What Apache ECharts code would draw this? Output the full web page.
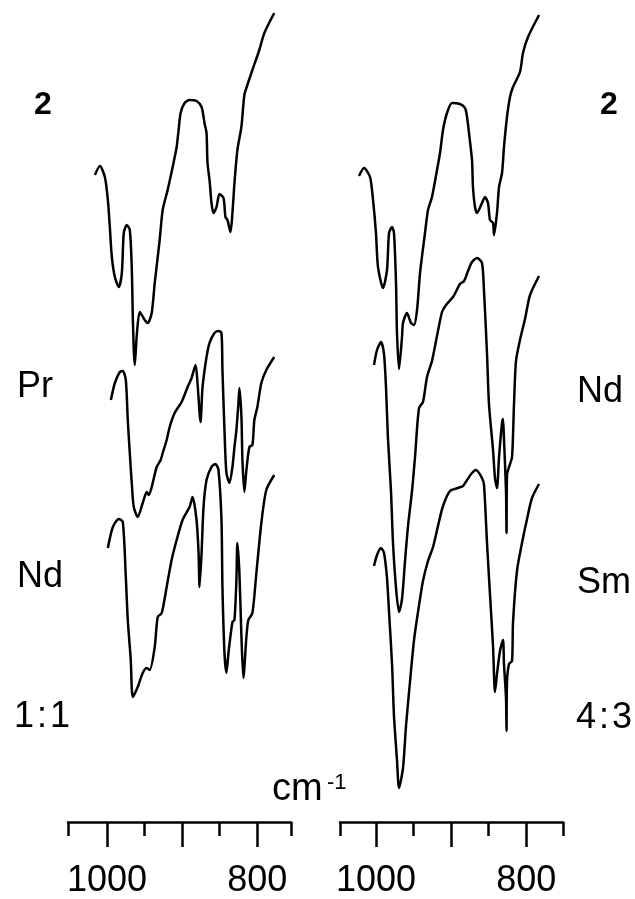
<!DOCTYPE html>
<html>
<head>
<meta charset="utf-8">
<script src="https://cdn.jsdelivr.net/npm/echarts@6/dist/echarts.min.js"></script>
<style>
html,body{margin:0;padding:0;background:#fff;}
#chart{width:635px;height:899px;}
</style>
</head>
<body>
<div id="chart"></div>
<script>
// Wavenumber ticks / labels
const longTicks = [1000, 900, 800];
const shortTicks = [950, 850];
const tickLabels = [1000, 800];

// Left panel traces: [wavenumber (cm-1), transmittance (arb. units, offset)]
const left_2 = [[1016.2,647],[1009.5,656],[1002.9,645],[998.9,622],[996.3,595],[993.6,565],[989.6,545],[984.3,535],[980.3,549],[977.7,589],[973.7,597],[969.7,592],[967.1,555],[965.7,505],[964.4,472],[963.1,457],[960.4,487],[956.4,510],[949.8,502],[945.8,499],[940.5,509],[936.5,539],[929.9,582],[925.9,612],[919.3,632],[912.6,655],[907.3,675],[904.7,692],[902,709],[896.7,719],[890.1,722],[880.8,721],[874.1,715],[870.2,699],[867.5,689],[866.2,659],[863.5,642],[860.9,619],[858.2,609],[854.2,615],[850.3,628],[844.9,624],[842.3,605],[839.6,602],[835.6,590],[833,609],[830.3,639],[826.4,672],[821.1,695],[817.1,727],[813.1,737],[806.4,752],[797.2,772],[790.5,789],[777.3,809]];
const left_Pr = [[994.9,422],[989.6,439],[983,450],[979,451],[975,442],[972.4,402],[969.7,369],[967.1,339],[964.4,315],[959.1,305],[952.5,319],[947.1,330],[944.5,327],[940.5,335],[933.9,355],[928.6,362],[925.9,369],[920.6,382],[916.6,395],[910,409],[900.7,420],[892.7,435],[887.4,444],[882.1,457],[879.5,439],[875.5,400],[872.8,435],[867.5,465],[863.5,479],[856.9,489],[851.6,491],[847.6,489],[846.3,452],[843.6,392],[841,349],[837,339],[833,355],[830.3,375],[827.7,392],[825,419],[823.7,434],[821,405],[819.7,362],[817.1,330],[814.4,352],[810.4,375],[806.4,377],[803.8,402],[799.8,415],[794.5,439],[787.9,452],[777.3,465]];
const left_Nd = [[998.9,274],[992.3,295],[984.3,303],[979,300],[975,245],[972.4,202],[968.4,162],[965.7,125],[959.1,135],[952.5,149],[947.1,154],[943.2,152],[936.5,175],[932.5,205],[927.2,209],[920.6,235],[914,262],[907.3,282],[899.4,302],[890.1,315],[886.1,325],[880.8,302],[878.1,269],[876.8,235],[874.1,269],[871.5,315],[867.5,342],[860.9,355],[855.6,358],[851.6,352],[847.6,302],[846.3,235],[843.6,169],[841,149],[838.3,169],[833,200],[830.3,202],[827.7,242],[826.4,279],[823.7,249],[821,185],[818.4,144],[814.4,185],[811.8,202],[806.4,209],[801.1,249],[794.5,299],[787.9,332],[777.3,347]];

// Right panel traces
const right_2 = [[1022.7,646],[1016,654],[1008,645],[1004,622],[1000.1,589],[997.4,555],[990.7,534],[985.4,552],[982.7,589],[978.7,595],[976.1,589],[973.4,539],[972.1,489],[969.4,453],[965.4,485],[964.1,499],[958.8,509],[953.4,499],[949.4,497],[945.4,512],[941.4,549],[934.8,589],[930.8,612],[925.5,625],[918.8,652],[914.8,669],[910.8,692],[905.5,709],[898.8,719],[888.2,718],[881.5,714],[878.8,705],[876.2,689],[872.2,662],[870.9,635],[868.2,615],[865.5,609],[858.9,619],[854.9,625],[850.9,619],[848.2,602],[844.2,599],[842.9,587],[838.9,609],[836.2,635],[832.2,649],[829.6,675],[825.6,705],[821.6,725],[817.6,735],[808.3,750],[804.3,769],[797.6,785],[782.9,807]];
const right_Nd = [[1002.7,457],[998.7,472],[993.4,480],[989.4,468],[986.7,434],[984.1,383],[980.1,331],[977.4,279],[973.4,234],[969.4,210],[965.4,223],[961.4,261],[957.4,296],[952.1,331],[948.1,365],[942.8,414],[937.5,420],[932.1,445],[925.5,461],[918.8,486],[912.1,510],[906.8,517],[897.5,525],[888.2,538],[882.8,541],[877.5,551],[872.2,560],[865.5,564],[858.9,559],[856.2,531],[852.2,468],[849.5,417],[844.2,372],[841.6,344],[838.9,334],[836.2,365],[832.2,399],[830.9,403],[829.6,383],[826.9,331],[826.2,289],[825.6,347],[822.9,355],[818.9,365],[816.3,417],[813.6,461],[808.3,482],[801.6,503],[794.9,527],[782.9,546]];
const right_Sm = [[1002.7,256],[998.7,267],[993.4,274],[989.4,269],[985.4,244],[982.7,210],[978.7,158],[976.1,106],[972.1,62],[969.4,34],[964.1,54],[960.1,96],[954.8,140],[949.4,182],[944.1,210],[937.5,241],[930.8,261],[924.1,275],[917.5,296],[910.8,316],[901.5,331],[890.8,334],[884.2,336],[878.8,342],[872.2,349],[866.9,352],[858.9,344],[856.2,337],[852.2,279],[848.2,227],[844.2,176],[841.6,130],[838.9,148],[834.9,171],[830.9,182],[829.6,158],[826.9,124],[826.2,91],[825.6,140],[822.9,158],[818.9,161],[817.6,199],[812.3,251],[805.6,279],[798.9,303],[792.3,324],[782.9,338]];

const leftLabels = ['2', 'Pr', 'Nd', '1\u200A:\u200A1'];
const rightLabels = ['2', 'Nd', 'Sm', '4\u200A:\u200A3'];
const unitMain = 'cm';
const unitSup = '-1';

const FONT = '"Liberation Sans", Arial, sans-serif';
const chart = echarts.init(document.getElementById('chart'), null, {renderer: 'canvas'});

const grids = [
  {left: 68, width: 223, top: 0, height: 822, containLabel: false, outerBoundsMode: 'none'},
  {left: 340, width: 223, top: 0, height: 822, containLabel: false, outerBoundsMode: 'none'}
];
const ranges = [[755, 1052], [751, 1048]];

const xAxes = [];
grids.forEach((g, i) => {
  const [mn, mx] = ranges[i];
  // base axis: line + short/end ticks
  xAxes.push({
    type: 'value', gridIndex: i, min: mn, max: mx, inverse: true, position: 'bottom',
    splitLine: {show: false},
    axisLine: {show: true, onZero: false, lineStyle: {color: '#000', width: 2.5}},
    axisTick: {show: true, inside: false, length: 14, customValues: [mx, ...shortTicks, mn], lineStyle: {color: '#000', width: 2.5}},
    axisLabel: {show: false}
  });
  // long ticks + labels
  xAxes.push({
    type: 'value', gridIndex: i, min: mn, max: mx, inverse: true, position: 'bottom',
    splitLine: {show: false},
    axisLine: {show: false, onZero: false},
    axisTick: {show: true, inside: false, length: 25, customValues: longTicks, lineStyle: {color: '#000', width: 2.5}},
    axisLabel: {show: true, customValues: tickLabels, margin: 41, fontSize: 36, color: '#000', fontFamily: FONT,
      formatter: function (v) { return String(v); }}
  });
});

const yAxes = [
  {type: 'value', gridIndex: 0, min: 0, max: 822, show: false},
  {type: 'value', gridIndex: 1, min: 0, max: 822, show: false}
];

function line(data, xi, yi) {
  return {
    type: 'line', data: data, xAxisIndex: xi, yAxisIndex: yi,
    showSymbol: false, smooth: 0.25, smoothMonotone: 'none', silent: true,
    lineStyle: {color: '#000', width: 2.5}, animation: false
  };
}

const series = [
  line(left_2, 0, 0), line(left_Pr, 0, 0), line(left_Nd, 0, 0),
  line(right_2, 2, 1), line(right_Nd, 2, 1), line(right_Sm, 2, 1)
];

function txt(s, x, y, opts) {
  return {type: 'text', x: x, y: y, style: Object.assign({text: s, fill: '#000', font: '36px ' + FONT, textAlign: 'left', textVerticalAlign: 'middle'}, opts || {})};
}

const graphic = [
  txt(leftLabels[0], 34, 105, {font: 'bold 32px ' + FONT}),
  txt(leftLabels[1], 17, 387),
  txt(leftLabels[2], 17, 577),
  txt(leftLabels[3], 14, 717),
  txt(rightLabels[0], 600, 105, {font: 'bold 32px ' + FONT}),
  txt(rightLabels[1], 577, 392),
  txt(rightLabels[2], 577, 583),
  txt(rightLabels[3], 576, 718),
  txt(unitMain, 272, 790, {font: '38px ' + FONT}),
  txt(unitSup, 327, 783, {font: '22px ' + FONT})
];

chart.setOption({
  animation: false,
  backgroundColor: '#fff',
  grid: grids,
  xAxis: xAxes,
  yAxis: yAxes,
  series: series,
  graphic: graphic
});
</script>
</body>
</html>
